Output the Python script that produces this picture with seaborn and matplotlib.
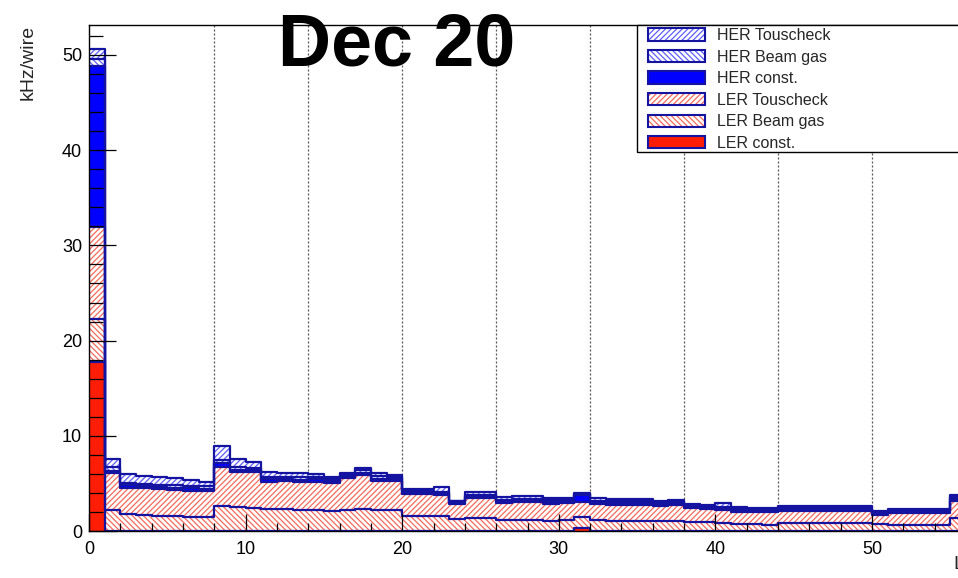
import numpy as np
import matplotlib
matplotlib.use("Agg")
import matplotlib.pyplot as plt
from matplotlib.patches import Patch, Rectangle
from matplotlib.legend_handler import HandlerTuple
from matplotlib.ticker import MultipleLocator
import seaborn as sns

# Hit rate per CDC layer (kHz/wire), split by background source
layers = np.arange(56)

ler_const = [17.8, 0, 0, 0, 0, 0, 0, 0,
             0, 0, 0, 0, 0, 0,
             0, 0, 0, 0, 0, 0,
             0, 0, 0, 0, 0, 0,
             0, 0, 0, 0, 0, 0.28,
             0, 0, 0, 0, 0, 0,
             0, 0, 0, 0, 0, 0,
             0, 0, 0, 0, 0, 0,
             0, 0, 0, 0, 0, 0]
ler_beamgas = [4.5, 2.2, 1.75, 1.68, 1.6, 1.54, 1.52, 1.5,
               2.63, 2.49, 2.45, 2.3, 2.28, 2.25,
               2.16, 2.14, 2.2, 2.28, 2.2, 2.2,
               1.58, 1.58, 1.55, 1.26, 1.4, 1.4,
               1.15, 1.2, 1.2, 1.08, 1.15, 1.22,
               1.15, 1.1, 1.1, 1.1, 1.1, 1.1,
               0.98, 0.9, 0.8, 0.7, 0.7, 0.67,
               0.88, 0.88, 0.88, 0.85, 0.82, 0.8,
               0.7, 0.67, 0.67, 0.67, 0.67, 1.33]
ler_touschek = [9.6, 3.86, 2.8, 2.8, 2.78, 2.76, 2.72, 2.7,
                4.12, 3.71, 3.7, 2.88, 2.92, 2.9,
                3.02, 2.86, 3.33, 3.6, 3.05, 3.0,
                2.27, 2.27, 2.23, 1.54, 2.03, 2.03,
                1.75, 1.8, 1.8, 1.79, 1.75, 1.5,
                1.65, 1.65, 1.65, 1.65, 1.55, 1.65,
                1.4, 1.4, 1.4, 1.33, 1.3, 1.28,
                1.25, 1.25, 1.25, 1.28, 1.3, 1.3,
                0.98, 1.19, 1.19, 1.19, 1.19, 1.87]
her_const = [16.9, 0.25, 0.25, 0.25, 0.25, 0.25, 0.25, 0.25,
             0.4, 0.25, 0.25, 0.25, 0.25, 0.25,
             0.25, 0.25, 0.25, 0.25, 0.25, 0.25,
             0.2, 0.2, 0.2, 0.2, 0.2, 0.2,
             0.2, 0.2, 0.2, 0.2, 0.2, 0.75,
             0.2, 0.2, 0.2, 0.2, 0.2, 0.2,
             0.2, 0.2, 0.2, 0.2, 0.2, 0.2,
             0.2, 0.2, 0.2, 0.2, 0.2, 0.2,
             0.2, 0.2, 0.2, 0.2, 0.2, 0.2]
her_beamgas = [0.8, 0.45, 0.25, 0.25, 0.25, 0.25, 0.25, 0.25,
               0.35, 0.25, 0.25, 0.25, 0.25, 0.25,
               0.25, 0.25, 0.25, 0.25, 0.25, 0.25,
               0.15, 0.15, 0.15, 0.15, 0.15, 0.15,
               0.15, 0.15, 0.15, 0.15, 0.15, 0.15,
               0.15, 0.15, 0.15, 0.15, 0.15, 0.15,
               0.15, 0.15, 0.15, 0.15, 0.15, 0.15,
               0.15, 0.15, 0.15, 0.15, 0.15, 0.15,
               0.15, 0.15, 0.15, 0.15, 0.15, 0.15]
her_touschek = [1.0, 0.84, 0.9, 0.8, 0.76, 0.73, 0.62, 0.48,
                1.43, 0.83, 0.63, 0.55, 0.36, 0.41,
                0.31, 0.21, 0.1, 0.27, 0.38, 0.18,
                0.25, 0.25, 0.46, 0.03, 0.28, 0.28,
                0.29, 0.33, 0.33, 0.21, 0.18, 0.06,
                0.28, 0.23, 0.23, 0.23, 0.18, 0.2,
                0.07, 0.08, 0.35, 0.18, 0.1, 0.08,
                0.14, 0.14, 0.14, 0.14, 0.14, 0.14,
                0.07, 0.1, 0.1, 0.1, 0.1, 0.23]

superlayer_bounds = [8, 14, 20, 26, 32, 38, 44, 50]
title_text = "Dec 20"

RED = "#ff1e05"
BLUE = "#0000ff"
RED_HATCH = "#f46a5c"
BLUE_HATCH = "#5f5fff"
OUTLINE = "#1414a0"
FWD = "//////"
BWD = "\\\\\\\\\\\\"

# stacking order, bottom to top: (label, values, face, hatch)
components = [
    ("LER const.", ler_const, RED, None),
    ("LER Beam gas", ler_beamgas, RED_HATCH, BWD),
    ("LER Touscheck", ler_touschek, RED_HATCH, FWD),
    ("HER const.", her_const, BLUE, None),
    ("HER Beam gas", her_beamgas, BLUE_HATCH, BWD),
    ("HER Touscheck", her_touschek, BLUE_HATCH, FWD),
]

sns.set_theme(style="ticks")
plt.rcParams["font.family"] = ["Liberation Sans", "DejaVu Sans"]
plt.rcParams["hatch.linewidth"] = 0.9

fig = plt.figure(figsize=(9.58, 5.78), dpi=100)
ax = fig.add_axes([89 / 958, 47 / 578, 877 / 958, 506 / 578])

bin_edges = list(range(0, 57))
centers = layers + 0.5
stacked = np.cumsum(np.vstack([c[1] for c in components]), axis=0)

# superlayer boundaries behind the histograms
for b in superlayer_bounds:
    ax.axvline(b, color="#555555", lw=0.9, ls=(0, (1.6, 1.6)), zorder=0.5)

# draw cumulative histograms from the top of the stack downwards
for k in reversed(range(len(components))):
    label, _, color, hatch = components[k]
    if hatch is None:
        sns.histplot(x=centers, weights=stacked[k], bins=bin_edges, element="step",
                     fill=True, facecolor=color, edgecolor="none", linewidth=0,
                     ax=ax, zorder=1)
    else:
        sns.histplot(x=centers, weights=stacked[k], bins=bin_edges, element="step",
                     fill=True, facecolor="white", edgecolor=color, hatch=hatch,
                     linewidth=0, ax=ax, zorder=1)
    sns.histplot(x=centers, weights=stacked[k], bins=bin_edges, element="step",
                 fill=False, color=OUTLINE, linewidth=1.6, ax=ax, zorder=1.2)

ax.set_xlim(0, 56)
ax.set_ylim(0, 53.15)
ax.set_axisbelow(False)

ax.xaxis.set_major_locator(MultipleLocator(10))
ax.xaxis.set_minor_locator(MultipleLocator(2))
ax.yaxis.set_major_locator(MultipleLocator(10))
ax.yaxis.set_minor_locator(MultipleLocator(2))
ax.tick_params(axis="y", which="major", direction="in", length=19.5, width=0.9,
               pad=5, labelsize=13, colors="black")
ax.tick_params(axis="y", which="minor", direction="in", length=10, width=0.9,
               colors="black")
ax.tick_params(axis="x", which="major", direction="in", length=12, width=0.9,
               pad=7, labelsize=13, colors="black")
ax.tick_params(axis="x", which="minor", direction="in", length=6, width=0.9,
               colors="black")
for s in ax.spines.values():
    s.set_color("black")
    s.set_linewidth(1.0)

ax.set_ylabel("kHz/wire", fontsize=14, rotation=90, ha="center", va="top",
              rotation_mode="default")
ax.yaxis.set_label_coords((28 - 89) / 877, 1.0)
ax.set_xlabel("Layer", fontsize=14, ha="left", va="top")
ax.xaxis.set_label_coords((953 - 89) / 877, (531 - 556) / 506)

# legend box frame
ax.add_patch(Rectangle(((637 - 89) / 877, (531 - 152) / 506), 1.0, (152 - 25) / 506,
                       transform=ax.transAxes, facecolor="white", edgecolor="black",
                       linewidth=1.0, zorder=4, clip_on=False))

# legend entries, top entry first
handles, labels = [], []
for label, _, color, hatch in reversed(components):
    if hatch is None:
        h = Patch(facecolor=color, edgecolor=OUTLINE, linewidth=1.5)
    else:
        h = (Patch(facecolor="white", edgecolor=color, hatch=hatch, linewidth=0),
             Patch(facecolor="none", edgecolor=OUTLINE, linewidth=1.5))
    handles.append(h)
    labels.append(label)
leg = ax.legend(handles, labels, loc="upper left",
                bbox_to_anchor=((648 - 89) / 877, (531 - 28) / 506),
                borderaxespad=0, borderpad=0, fontsize=11.5, handlelength=3.6,
                handleheight=0.8, labelspacing=0.41, handletextpad=0.7,
                frameon=False,
                handler_map={tuple: HandlerTuple(ndivide=1, pad=0)})
leg.set_zorder(5)

fig.text(397 / 958, 1 - 66 / 578, title_text, fontsize=53, fontweight="bold",
         ha="center", va="baseline", color="black")

fig.savefig("out.png", dpi=100)
